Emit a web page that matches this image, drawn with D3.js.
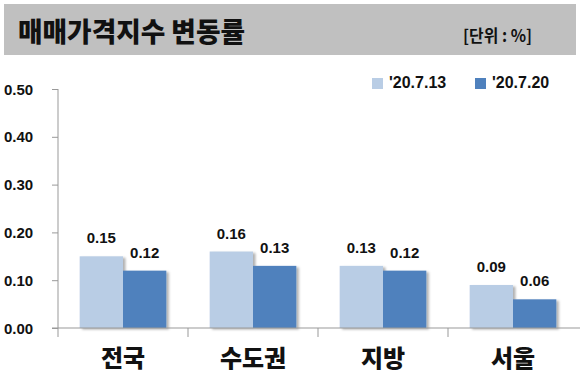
<!DOCTYPE html>
<html>
<head>
<meta charset="utf-8">
<script src="https://cdn.jsdelivr.net/npm/d3@7"></script>
<style>
html,body{margin:0;padding:0;background:#fff;}
svg{display:block;}
</style>
</head>
<body>
<svg id="chart" width="580" height="380"></svg>
<script>
const categories = ["전국", "수도권", "지방", "서울"];
const seriesNames = ["'20.7.13", "'20.7.20"];
const series1 = [0.15, 0.16, 0.13, 0.09];
const series2 = [0.12, 0.13, 0.12, 0.06];
const yTicks = [0, 0.1, 0.2, 0.3, 0.4, 0.5];
const titleText = "매매가격지수 변동률";
const unitText = "[단위 : %]";

const colors = ["#b9cde5", "#4f81bd"];
const svg = d3.select("#chart");
const kr = "'Noto Sans CJK KR', sans-serif";
const num = "'Liberation Sans', Arial, sans-serif";

const defs = svg.append("defs");
const f = defs.append("filter").attr("id","sh").attr("x","-20%").attr("y","-20%").attr("width","150%").attr("height","140%");
f.append("feDropShadow").attr("dx",2.5).attr("dy",1.5).attr("stdDeviation",1.2).attr("flood-color","#000").attr("flood-opacity",0.3);

// header
svg.append("rect").attr("x",4).attr("y",4).attr("width",572).attr("height",51).attr("fill","#c0c0c0");
svg.append("text").attr("x",18).attr("y",42).attr("font-family",kr).attr("font-weight",900)
  .attr("font-size",27).attr("textLength",227).attr("lengthAdjust","spacingAndGlyphs").attr("fill","#111").text(titleText);
svg.append("text").attr("x",463).attr("y",42).attr("font-family",kr).attr("font-weight",700)
  .attr("font-size",17).attr("textLength",69).attr("lengthAdjust","spacingAndGlyphs").attr("fill","#111").text(unitText);

const x0 = d3.scaleBand().domain(categories).range([58, 578]).paddingInner(0).paddingOuter(0);
const x1 = d3.scaleBand().domain(seriesNames).range([0, x0.bandwidth()]).paddingInner(0).paddingOuter(0.5);
const y = d3.scaleLinear().domain([0, 0.5]).range([328, 89]);

// y axis
const yAxis = svg.append("g").attr("transform","translate(58,0)")
  .call(d3.axisLeft(y).tickValues(yTicks).tickFormat(d3.format(".2f")).tickSize(6).tickPadding(0));
yAxis.select(".domain").remove();
yAxis.selectAll(".tick line").attr("stroke","#999");
yAxis.selectAll(".tick text").remove();
svg.append("line").attr("x1",58).attr("x2",58).attr("y1",89).attr("y2",337).attr("stroke","#999");
svg.selectAll(".ylab").data(yTicks).enter().append("text").attr("class","ylab")
  .attr("x",4).attr("y",d=>y(d)+5.5).attr("font-family",num).attr("font-weight",700).attr("font-size",15)
  .attr("fill","#111").text(d=>d3.format(".2f")(d));

// bars
const data = categories.map((c,i)=>({c, vals:[series1[i], series2[i]]}));
const g = svg.selectAll(".grp").data(data).enter().append("g").attr("transform",d=>`translate(${x0(d.c)},0)`);
g.selectAll("rect").data(d=>d.vals.map((v,j)=>({v,s:seriesNames[j],j}))).enter().append("rect")
  .attr("x",d=>x1(d.s)).attr("width",x1.bandwidth()).attr("y",d=>y(d.v)).attr("height",d=>y(0)-y(d.v))
  .attr("fill",d=>colors[d.j]).attr("filter","url(#sh)");
g.selectAll(".vl").data(d=>d.vals.map((v,j)=>({v,s:seriesNames[j],j}))).enter().append("text")
  .attr("x",d=>x1(d.s)+x1.bandwidth()/2).attr("y",d=>y(d.v)-13).attr("text-anchor","middle")
  .attr("font-family",num).attr("font-weight",700).attr("font-size",15).attr("fill","#111")
  .text(d=>d3.format(".2f")(d.v));

// x axis
const xAxis = svg.append("g").attr("transform","translate(0,328)")
  .call(d3.axisBottom(x0).tickSize(0).tickFormat(""));
xAxis.select(".domain").remove();
svg.append("line").attr("x1",52).attr("x2",580).attr("y1",328).attr("y2",328).attr("stroke","#999");
svg.selectAll(".sep").data(categories.slice(1)).enter().append("line")
  .attr("x1",d=>x0(d)).attr("x2",d=>x0(d)).attr("y1",328).attr("y2",337).attr("stroke","#999");
svg.selectAll(".cl").data(categories).enter().append("text")
  .attr("x",d=>x0(d)+x0.bandwidth()/2).attr("y",367).attr("text-anchor","middle")
  .attr("font-family",kr).attr("font-weight",900).attr("font-size",24).attr("fill","#111").text(d=>d);

// legend
const legX = [372, 475];
seriesNames.forEach((s,i)=>{
  svg.append("rect").attr("x",legX[i]).attr("y",78).attr("width",11).attr("height",11).attr("fill",colors[i]);
  svg.append("text").attr("x",legX[i]+17).attr("y",88).attr("font-family",num).attr("font-weight",700)
    .attr("font-size",16).attr("fill","#111").text(s);
});
</script>
</body>
</html>
